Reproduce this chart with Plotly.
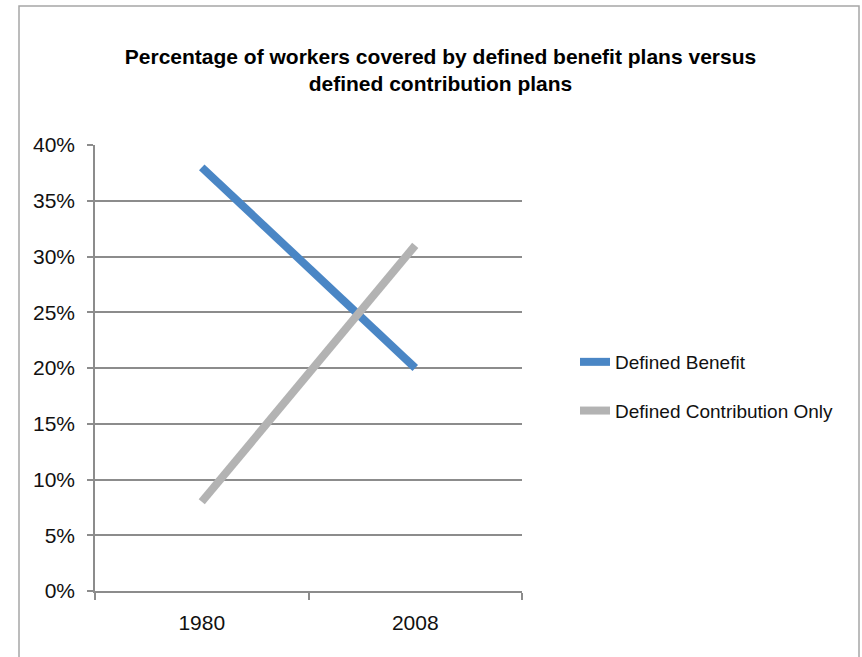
import plotly.graph_objects as go

years = ["1980", "2008"]
defined_benefit = [0.38, 0.20]
defined_contribution = [0.08, 0.31]
series_names = ["Defined Benefit", "Defined Contribution Only"]
title_text = "Percentage of workers covered by defined benefit plans versus<br>defined contribution plans"

W, H = 862, 657
L, R, T, B = 95, 340, 145, 66
pw, ph = W - L - R, H - T - B

FONT = "Liberation Sans, Arial"

fig = go.Figure()
fig.add_trace(go.Scatter(x=years, y=defined_benefit, mode="lines", name=series_names[0],
                         line=dict(color="#4A86C5", width=8), legendgroup="a"))
fig.add_trace(go.Scatter(x=years, y=defined_contribution, mode="lines", name=series_names[1],
                         line=dict(color="#B3B3B3", width=8), legendgroup="b"))

def px_x(p):
    return (p - L) / pw

def px_y(p):
    return (H - B - p) / ph

fig.add_shape(type="rect", xref="paper", yref="paper",
              x0=px_x(19), x1=px_x(859), y0=px_y(700), y1=px_y(6),
              line=dict(color="#A6A6A6", width=1.5), layer="below")

fig.update_layout(
    width=W, height=H,
    margin=dict(l=L, r=R, t=T, b=B),
    paper_bgcolor="white", plot_bgcolor="white",
    title=dict(text="<b>" + title_text + "</b>", xref="container", yref="container",
               x=0.511, xanchor="center", y=1 - 64 / H, yanchor="top",
               font=dict(family=FONT, size=21, color="#000000")),
    showlegend=True,
    legend=dict(x=px_x(575), xanchor="left", y=px_y(343), yanchor="top",
                font=dict(family=FONT, size=19, color="#111111"),
                tracegroupgap=21, bgcolor="rgba(0,0,0,0)"),
    font=dict(family=FONT, color="#111111"),
)
fig.update_xaxes(type="category", range=[-0.5, 1.5], tickson="boundaries",
                 ticks="outside", ticklen=7, tickcolor="#8C8C8C", tickwidth=1.5,
                 showline=True, linecolor="#8C8C8C", linewidth=1.5, showgrid=False,
                 ticklabelstandoff=12,
                 tickfont=dict(family=FONT, size=21, color="#111111"), zeroline=False)
fig.update_yaxes(range=[0, 0.4], dtick=0.05, tickformat=".0%",
                 ticks="outside", ticklen=6, tickcolor="#8C8C8C", tickwidth=1.5,
                 showline=True, linecolor="#8C8C8C", linewidth=1.5,
                 showgrid=True, gridcolor="#8C8C8C", gridwidth=1.5, zeroline=False,
                 ticklabelstandoff=8,
                 tickfont=dict(family=FONT, size=21, color="#111111"))

fig.write_html("out.html")
